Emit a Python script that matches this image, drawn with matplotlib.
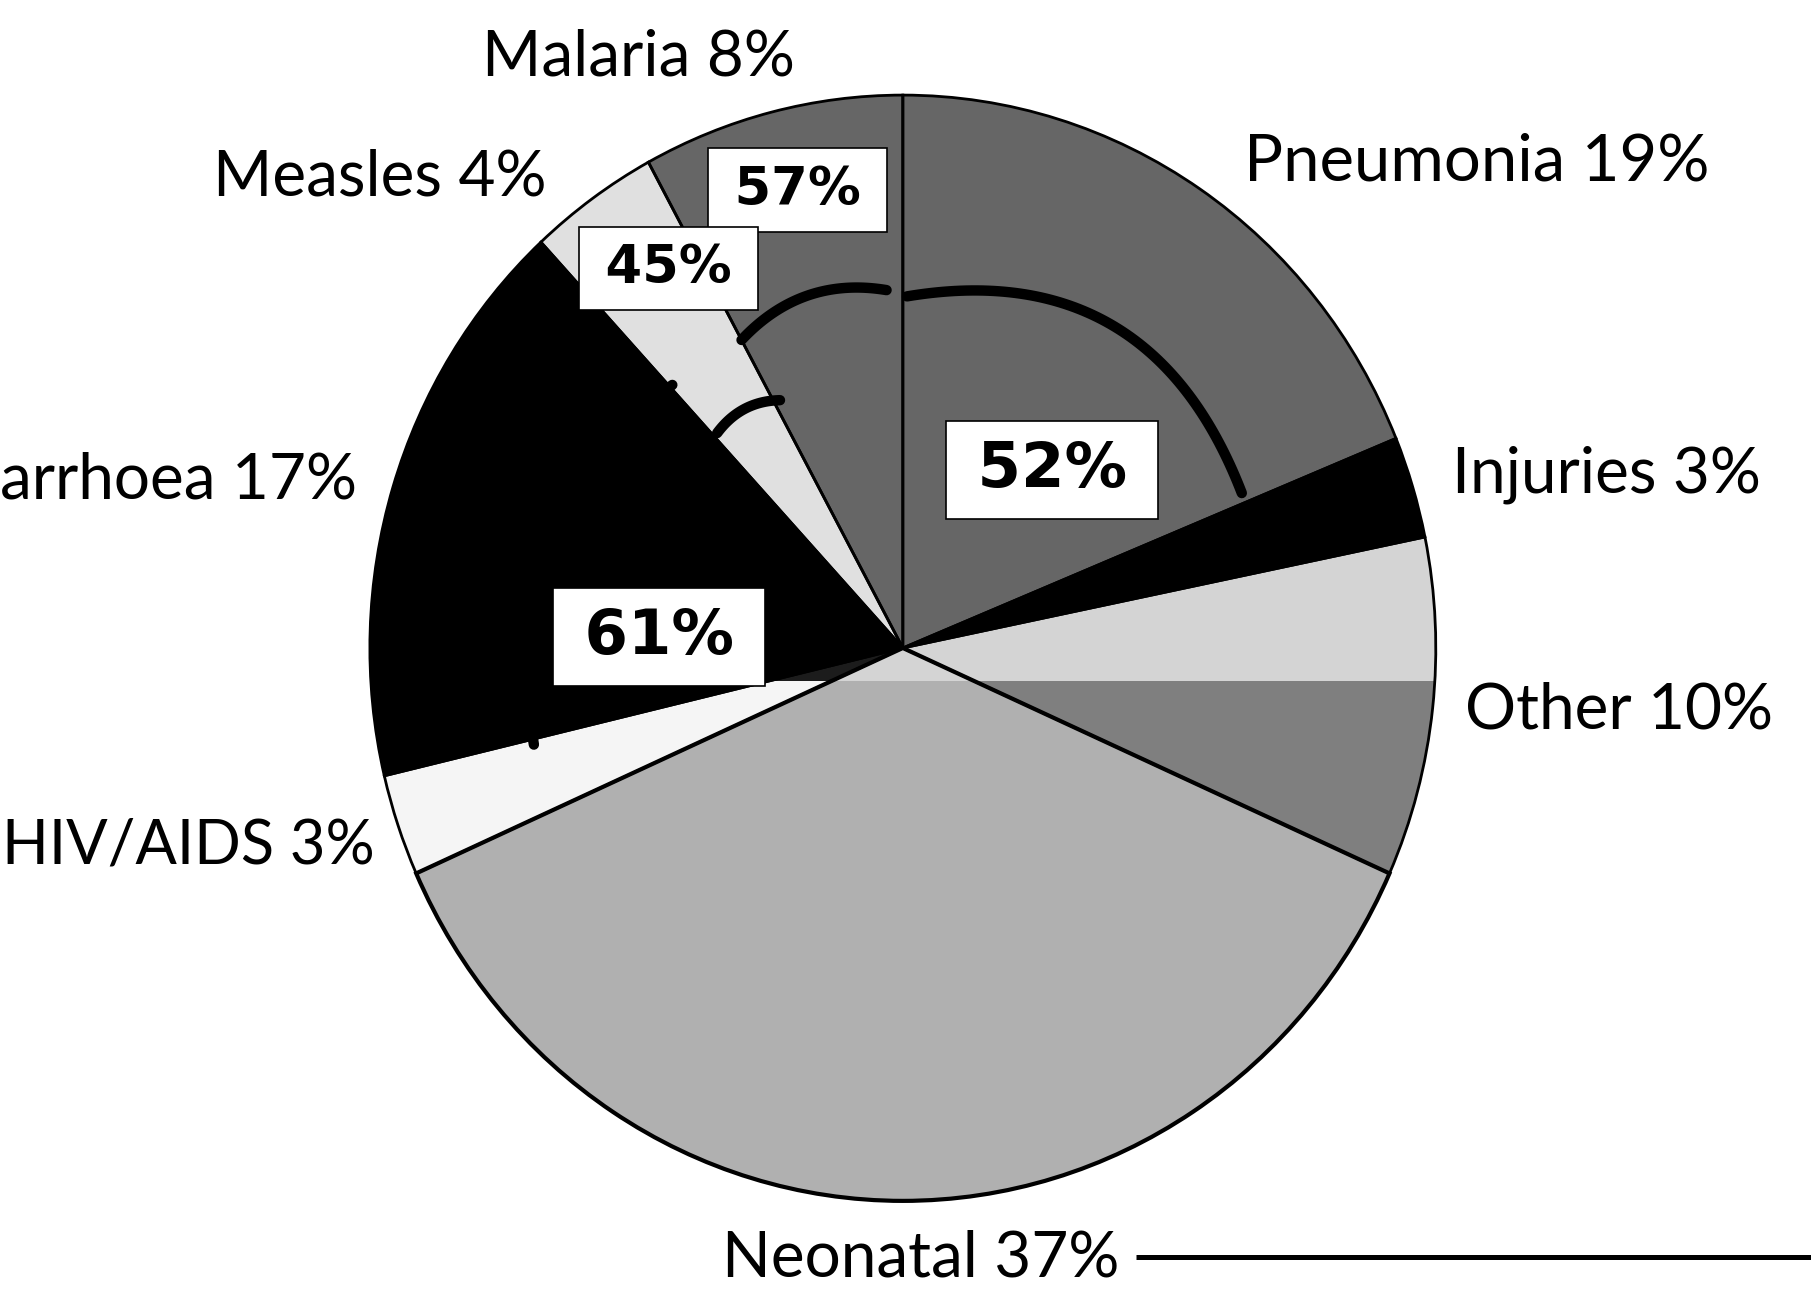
import numpy as np
import matplotlib.pyplot as plt
from matplotlib import font_manager

# causes of under-5 deaths, clockwise from 12 o'clock, share in %
causes = ['Pneumonia', 'Injuries', 'Other', 'Neonatal', 'HIV/AIDS', 'Diarrhoea', 'Measles', 'Malaria']
shares = [19, 3, 10, 37, 3, 17, 4, 8]

# share of those deaths attributable to undernutrition (white boxes)
undernutrition_causes = ['Pneumonia', 'Diarrhoea', 'Malaria', 'Measles']
undernutrition_pct = [52, 61, 57, 45]

fill = ['#666666', '#000000', '#7f7f7f', '#b0b0b0', '#f5f5f5', '#000000', '#e0e0e0', '#666666']
# the upper part of the scan uses other shades for these slices
fill_top = {'Other': '#d4d4d4', 'Neonatal': '#d4d4d4', 'HIV/AIDS': '#1c1c1c'}
split_y = -0.06

# label placement (x, y, alignment, size scale) in pie units
label_pos = {
    'Malaria': (-0.497, 1.036, 'center', 1.0),
    'Measles': (-0.668, 0.819, 'right', 1.0),
    'Pneumonia': (0.640, 0.846, 'left', 1.02),
    'Injuries': (1.030, 0.282, 'left', 1.0),
    'Other': (1.054, -0.145, 'left', 1.0),
    'Diarrhoea': (-1.024, 0.271, 'right', 1.0),
    'HIV/AIDS': (-0.991, -0.389, 'right', 0.96),
    'Neonatal': (-0.340, -1.136, 'left', 1.0),
}
# box placement (angle, radius, fontsize)
box_pos = {
    'Pneumonia': (48.9, 0.427, 45),
    'Diarrhoea': (177.5, 0.458, 45),
    'Malaria': (103.4, 0.851, 38),
    'Measles': (122.6, 0.815, 38),
}
# bracket arcs: inset at start/end (deg), radius at start/end, bulge
arc_geom = {
    'Pneumonia': (0.7, 1.5, 0.636, 0.695, 0.20),
    'Malaria': (0.0, 2.7, 0.634, 0.648, 0.13),
    'Measles': (0.9, -1.3, 0.522, 0.504, 0.12),
    'Diarrhoea': (-0.8, -0.5, 0.714, 0.643, 0.15),
}

try:
    font_manager.findfont(font_manager.FontProperties(family='Liberation Sans Narrow'),
                          fallback_to_default=False)
    label_font, label_size = 'Liberation Sans Narrow', 54
except ValueError:
    label_font, label_size = 'Lato', 46


def bracket(a1, r1, a2, r2, bulge, n=80):
    p1 = r1 * np.array([np.cos(np.radians(a1)), np.sin(np.radians(a1))])
    p2 = r2 * np.array([np.cos(np.radians(a2)), np.sin(np.radians(a2))])
    mid = (p1 + p2) / 2
    d = p2 - p1
    length = np.hypot(d[0], d[1])
    normal = np.array([-d[1], d[0]]) / length
    if normal @ mid < 0:
        normal = -normal
    ctrl = mid + 2 * bulge * length * normal
    t = np.linspace(0, 1, n)[:, None]
    pts = (1 - t) ** 2 * p1 + 2 * t * (1 - t) * ctrl + t ** 2 * p2
    return pts[:, 0], pts[:, 1]


fig = plt.figure(figsize=(18.11, 12.91), dpi=100)
ax = fig.add_axes([0, 0, 1, 1])

wedges, _ = ax.pie(shares, colors=fill, startangle=90, counterclock=False,
                   wedgeprops=dict(linewidth=0))
for w, cause in zip(wedges, causes):
    if cause in fill_top:
        rect = plt.Rectangle((-1.1, split_y), 2.2, 1.2, facecolor=fill_top[cause],
                             edgecolor='none', zorder=w.get_zorder())
        ax.add_patch(rect)
        rect.set_clip_path(w)

# outlines on top, neonatal edges a bit heavier as in the scan
outlines, _ = ax.pie(shares, colors=['none'] * len(shares), startangle=90, counterclock=False,
                     wedgeprops=dict(edgecolor='black', linewidth=2.0))
outlines[causes.index('Neonatal')].set_linewidth(3.0)
outlines[causes.index('Neonatal')].set_zorder(2)

total = sum(shares)
starts = 90 - 360 * np.concatenate([[0], np.cumsum(shares)[:-1]]) / total
ends = starts - 360 * np.array(shares) / total

for cause in undernutrition_causes:
    i = causes.index(cause)
    in1, in2, r1, r2, bulge = arc_geom[cause]
    x, y = bracket(starts[i] - in1, r1, ends[i] + in2, r2, bulge)
    ax.plot(x, y, color='black', lw=7.5, solid_capstyle='round', zorder=4)

for cause, pct in zip(undernutrition_causes, undernutrition_pct):
    ang, rad, fs = box_pos[cause]
    ax.text(rad * np.cos(np.radians(ang)), rad * np.sin(np.radians(ang)), f'\u2009{pct}%\u2009',
            ha='center', va='center', fontsize=fs, fontweight='bold', family='DejaVu Sans',
            bbox=dict(boxstyle='square,pad=0.3', facecolor='white', edgecolor='black', linewidth=1.2),
            zorder=6)

texts = {}
for cause, share in zip(causes, shares):
    x, y, ha, scale = label_pos[cause]
    texts[cause] = ax.text(x, y, f'{cause} {share}%', ha=ha, va='baseline',
                           fontsize=label_size * scale, family=label_font, color='black')

ax.set_aspect('auto')
ax.set_xlim(-1.694, 1.704)
ax.set_ylim(-1.163, 1.172)
ax.axis('off')

# leftover rule after the neonatal label
fig.canvas.draw()
bb = texts['Neonatal'].get_window_extent(fig.canvas.get_renderer())
x0 = ax.transData.inverted().transform((bb.x1 + 17, 0))[0]
ax.plot([x0, 1.704], [-1.101, -1.101], color='black', lw=3.6, solid_capstyle='butt')

fig.savefig('out.png', dpi=100)
